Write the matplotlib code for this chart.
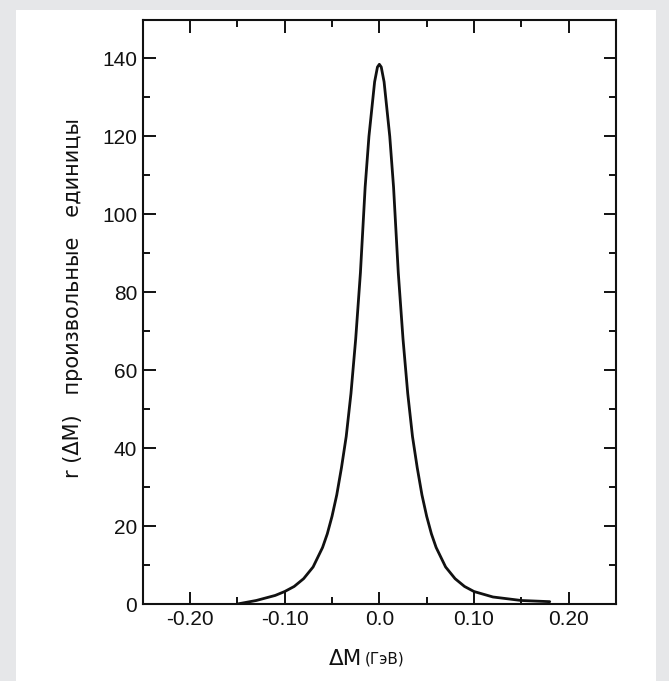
import matplotlib
matplotlib.use("Agg")
import matplotlib.pyplot as plt
from matplotlib.patches import Rectangle
from matplotlib.ticker import MultipleLocator, FixedLocator
from matplotlib import font_manager

# Data
dm = [-0.15, -0.13, -0.11, -0.10, -0.09, -0.08, -0.07, -0.06, -0.055, -0.05,
      -0.045, -0.04, -0.035, -0.03, -0.025, -0.02, -0.015, -0.011, -0.005,
      -0.002, 0.0, 0.002, 0.005, 0.011, 0.015, 0.02, 0.025, 0.03, 0.035, 0.04,
      0.045, 0.05, 0.055, 0.06, 0.07, 0.08, 0.09, 0.10, 0.12, 0.15, 0.18]
r = [0.0, 0.9, 2.2, 3.2, 4.5, 6.5, 9.5, 14.5, 18.0, 22.5,
     28.0, 35.0, 43.0, 54.0, 68.0, 85.0, 107.0, 120.0, 134.0,
     137.8, 138.5, 137.8, 134.0, 120.0, 107.0, 85.0, 68.0, 54.0, 43.0, 35.0,
     28.0, 22.5, 18.0, 14.5, 9.5, 6.5, 4.5, 3.2, 1.8, 0.9, 0.6]

x_major = [-0.20, -0.10, 0.0, 0.10, 0.20]
x_labels = ["-0.20", "-0.10", "0.0", "0.10", "0.20"]
y_major = [0, 20, 40, 60, 80, 100, 120, 140]
y_labels = ["0", "20", "40", "60", "80", "100", "120", "140"]

names = {f.name for f in font_manager.fontManager.ttflist}
tick_family = ["Liberation Sans Narrow"] if "Liberation Sans Narrow" in names else ["Liberation Sans"]

W, H = 669, 681
fig = plt.figure(figsize=(W / 100, H / 100), dpi=100, facecolor="#e6e7e9")
fig.patches.append(Rectangle((16 / W, 0), (656 - 16) / W, (681 - 10) / H,
                             transform=fig.transFigure, facecolor="white",
                             edgecolor="none", zorder=-5))

ax = fig.add_axes([142.7 / W, 1 - 604 / H, (616 - 142.7) / W, (604 - 19.5) / H])
ax.set_zorder(2)
ax.set_facecolor("white")
ax.plot(dm, r, color="#111111", lw=2.0, solid_joinstyle="round", solid_capstyle="round")

ax.set_xlim(-0.25, 0.25)
ax.set_ylim(0, 150)
ax.xaxis.set_major_locator(FixedLocator(x_major))
ax.set_xticklabels(x_labels)
ax.xaxis.set_minor_locator(MultipleLocator(0.05))
ax.yaxis.set_major_locator(FixedLocator(y_major))
ax.set_yticklabels(y_labels)
ax.yaxis.set_minor_locator(MultipleLocator(10))
for lab in ax.get_xticklabels() + ax.get_yticklabels():
    lab.set_family(tick_family)

for s in ax.spines.values():
    s.set_linewidth(1.5)
    s.set_color("#111111")

ax.tick_params(which="both", direction="in", top=True, right=True,
               color="#111111", width=1.4, labelsize=15, labelcolor="#111111")
ax.tick_params(which="major", length=9, pad=4)
ax.tick_params(which="minor", length=5)

fig.text(362 / W, 1 - 659 / H, "ΔM", ha="right", va="center", fontsize=15.5,
         color="#111111", zorder=3)
fig.text(365 / W, 1 - 659 / H, "(ГэВ)", ha="left", va="center", fontsize=11,
         color="#111111", zorder=3)
fig.text(73 / W, 1 - 298 / H, "r (ΔM)   произвольные   единицы", rotation=90,
         ha="center", va="center", fontsize=15, color="#111111", zorder=3)

fig.savefig("out.png", dpi=100, facecolor=fig.get_facecolor())
